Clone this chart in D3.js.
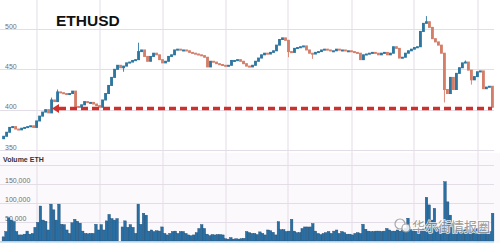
<!DOCTYPE html>
<html>
<head>
<meta charset="utf-8">
<script src="https://cdn.jsdelivr.net/npm/d3@7/dist/d3.min.js"></script>
<style>
  html, body { margin: 0; padding: 0; background: #fff; }
  svg { display: block; }
  .grid line { stroke: #e2dde6; stroke-width: 1; }
  .tick-label { font-family: "Liberation Sans", Arial, sans-serif; font-size: 7px; fill: #6f6f6f; }
</style>
</head>
<body>
<div class="chart"></div>
<script>
// ETHUSD candles
const firstOpen = 364;
const closes = [
  367,372,378,379,376,375,377,378,379,380,
  378,386,392,397,400,396,412,410,422,421,
  420,419,420,423,404,403,406,410,409,409,
  407,405,403,412,420,430,440,450,455,452,
  454,458,459,461,462,472,474,466,460,466,
  470,468,462,458,460,466,468,474,475,474,
  474,473,471,470,469,468,467,465,453,460,
  459,457,456,455,454,455,461,461,462,460,
  457,454,453,455,460,464,468,470,469,471,
  473,480,487,489,486,472,471,476,477,478,
  479,474,470,469,471,472,474,475,474,473,
  473,475,474,474,473,473,472,471,470,462,
  468,469,470,471,470,468,470,471,468,470,
  478,476,464,465,470,473,475,477,478,497,
  507,509,502,488,484,480,470,425,420,440,
  425,445,452,458,459,449,437,441,447,448,
  426,428,429,403
];
// [candle index, price] for the longer wicks
const wickHighs = [[16, 415], [18, 425], [45, 483], [141, 516], [154, 461]];
const wickLows = [[40, 447], [95, 465], [103, 463], [147, 409], [156, 431]];

// volume in thousands of ETH
const volumes = [
  11,25,61,55,51,25,16,16,18,26,18,20,36,49,92,55,52,29,97,82,
  55,97,44,43,29,20,48,57,52,47,26,20,19,20,20,44,29,43,29,53,
  70,59,55,59,0,37,53,36,43,36,20,97,44,73,68,26,29,25,27,26,37,
  20,16,20,25,26,20,25,25,20,16,14,16,22,33,43,33,18,14,17,16,
  17,17,16,6,5,9,5,6,5,6,7,25,22,20,20,17,24,20,16,29,
  27,23,16,51,30,30,25,26,57,26,22,22,33,37,37,37,46,26,20,17,
  20,22,25,20,
  26,29,20,25,22,18,18,16,20,22,20,44,31,26,25,25,26,26,25,26,
  33,29,26,26,29,26,29,33,60,30,29,26,26,29,33,115,95,55,86,37,
  33,43,156,103,68,43,29,33,30,29,33,30,30,29,33,29,30,33,27,25,73
];

const priceTicks = [350, 400, 450, 500];
const volumeTicks = [0, 50, 100, 150, 200];
const supportLevel = 401.5;
const title = "ETHUSD";
const volumeTitle = "Volume ETH";
const watermark = "华尔街情报圈";

const width = 500;
const height = 248;

const svg = d3.select("div.chart")
    .append("svg")
    .attr("width", width)
    .attr("height", height);

const x = d3.scaleBand()
    .domain(d3.range(closes.length))
    .range([2, 494])
    .padding(0.05);

const xv = d3.scaleBand()
    .domain(d3.range(volumes.length))
    .range([2, 494])
    .padding(0.04);

const y = d3.scaleLinear().domain([350, 500]).range([150, 29]);
const yv = d3.scaleLinear().domain([0, 200]).range([241, 165]);

// volume panel tint
svg.append("rect")
    .attr("x", 0).attr("y", 153)
    .attr("width", width).attr("height", 90)
    .attr("fill", "#fcf9fc");

// vertical grid
const vLines = [37, 100, 163, 226, 288, 352, 414, 478];
svg.append("g").attr("class", "grid")
    .selectAll("line")
    .data(vLines)
    .enter()
    .append("line")
    .attr("x1", d => d).attr("x2", d => d)
    .attr("y1", 0).attr("y2", 243);

// price grid + labels
svg.append("g").attr("class", "grid")
    .selectAll("line")
    .data(priceTicks)
    .enter()
    .append("line")
    .attr("x1", 0).attr("x2", 494)
    .attr("y1", d => Math.round(y(d)) + 0.5)
    .attr("y2", d => Math.round(y(d)) + 0.5);

svg.append("g")
    .selectAll("text")
    .data(priceTicks)
    .enter()
    .append("text")
    .attr("class", "tick-label")
    .attr("x", 5)
    .attr("y", d => y(d) - 0.5)
    .text(d => d);

// volume grid + labels
svg.append("g").attr("class", "grid")
    .selectAll("line")
    .data(volumeTicks.filter(d => d > 0))
    .enter()
    .append("line")
    .attr("x1", 0).attr("x2", 494)
    .attr("y1", d => Math.round(yv(d)) + 0.5)
    .attr("y2", d => Math.round(yv(d)) + 0.5);

svg.append("g")
    .selectAll("text")
    .data(volumeTicks.filter(d => d > 0 && d < 200))
    .enter()
    .append("text")
    .attr("class", "tick-label")
    .attr("x", 5)
    .attr("y", d => yv(d) - 1)
    .text(d => d3.format(",")(d * 1000));

// titles
svg.append("text")
    .attr("x", 56).attr("y", 26)
    .attr("font-family", "Liberation Sans, Arial, sans-serif")
    .attr("font-weight", "bold")
    .attr("font-size", 15.5)
    .attr("fill", "#111")
    .text(title);

svg.append("text")
    .attr("x", 3).attr("y", 161.5)
    .attr("font-family", "Liberation Sans, Arial, sans-serif")
    .attr("font-weight", "bold")
    .attr("font-size", 7)
    .attr("fill", "#333")
    .text(volumeTitle);

// candles
const candles = closes.map(function(c, i) {
    const o = i === 0 ? firstOpen : closes[i - 1];
    let hi = Math.max(o, c), lo = Math.min(o, c);
    const wh = wickHighs.find(w => w[0] === i);
    const wl = wickLows.find(w => w[0] === i);
    if (wh) hi = wh[1];
    if (wl) lo = wl[1];
    return {i: i, open: o, close: c, high: hi, low: lo, up: c >= o};
});

const upColor = "#2d76a0";
const downColor = "#d47e69";

const cg = svg.append("g");
cg.selectAll("line")
    .data(candles)
    .enter()
    .append("line")
    .attr("x1", d => x(d.i) + x.bandwidth() / 2)
    .attr("x2", d => x(d.i) + x.bandwidth() / 2)
    .attr("y1", d => y(d.high))
    .attr("y2", d => y(d.low))
    .attr("stroke", d => d.up ? upColor : downColor)
    .attr("stroke-width", 0.9);

cg.selectAll("rect")
    .data(candles)
    .enter()
    .append("rect")
    .attr("x", d => x(d.i))
    .attr("width", x.bandwidth())
    .attr("y", d => y(Math.max(d.open, d.close)) - 0.5)
    .attr("height", d => Math.max(2, Math.abs(y(d.open) - y(d.close)) + 1))
    .attr("fill", d => d.up ? upColor : downColor);

// support line with arrow
const sy = y(supportLevel);
svg.append("line")
    .attr("x1", 59).attr("x2", 492)
    .attr("y1", sy).attr("y2", sy)
    .attr("stroke", "#d0302b")
    .attr("stroke-width", 3.6)
    .attr("stroke-dasharray", "7,4");

svg.append("path")
    .attr("d", `M52,${sy} L59,${sy - 4.5} L59,${sy + 4.5} Z`)
    .attr("fill", "#d0302b");

// volume bars
svg.append("g")
    .selectAll("rect")
    .data(volumes)
    .enter()
    .append("rect")
    .attr("x", (d, i) => xv(i))
    .attr("width", xv.bandwidth())
    .attr("y", d => yv(d))
    .attr("height", d => yv(0) - yv(d))
    .attr("fill", "#2a6fa3")
    .attr("stroke", "#1a4a73")
    .attr("stroke-width", 0.4);

svg.append("line")
    .attr("x1", 0).attr("x2", 494)
    .attr("y1", 241.8).attr("y2", 241.8)
    .attr("stroke", "#a9cfe6")
    .attr("stroke-width", 1.2);

// watermark
const wm = svg.append("g").attr("opacity", 0.85);
wm.append("circle").attr("cx", 400).attr("cy", 224).attr("r", 5)
    .attr("fill", "none").attr("stroke", "#9a9a9a").attr("stroke-width", 1.2);
wm.append("circle").attr("cx", 406).attr("cy", 228).attr("r", 4)
    .attr("fill", "#fff").attr("stroke", "#9a9a9a").attr("stroke-width", 1.2);
wm.append("text")
    .attr("x", 412).attr("y", 231)
    .attr("font-family", "Noto Sans CJK SC, sans-serif")
    .attr("font-size", 13)
    .attr("fill", "#8c8c8c")
    .attr("stroke", "#fff")
    .attr("stroke-width", 1.5)
    .attr("paint-order", "stroke")
    .text(watermark);
</script>
</body>
</html>
